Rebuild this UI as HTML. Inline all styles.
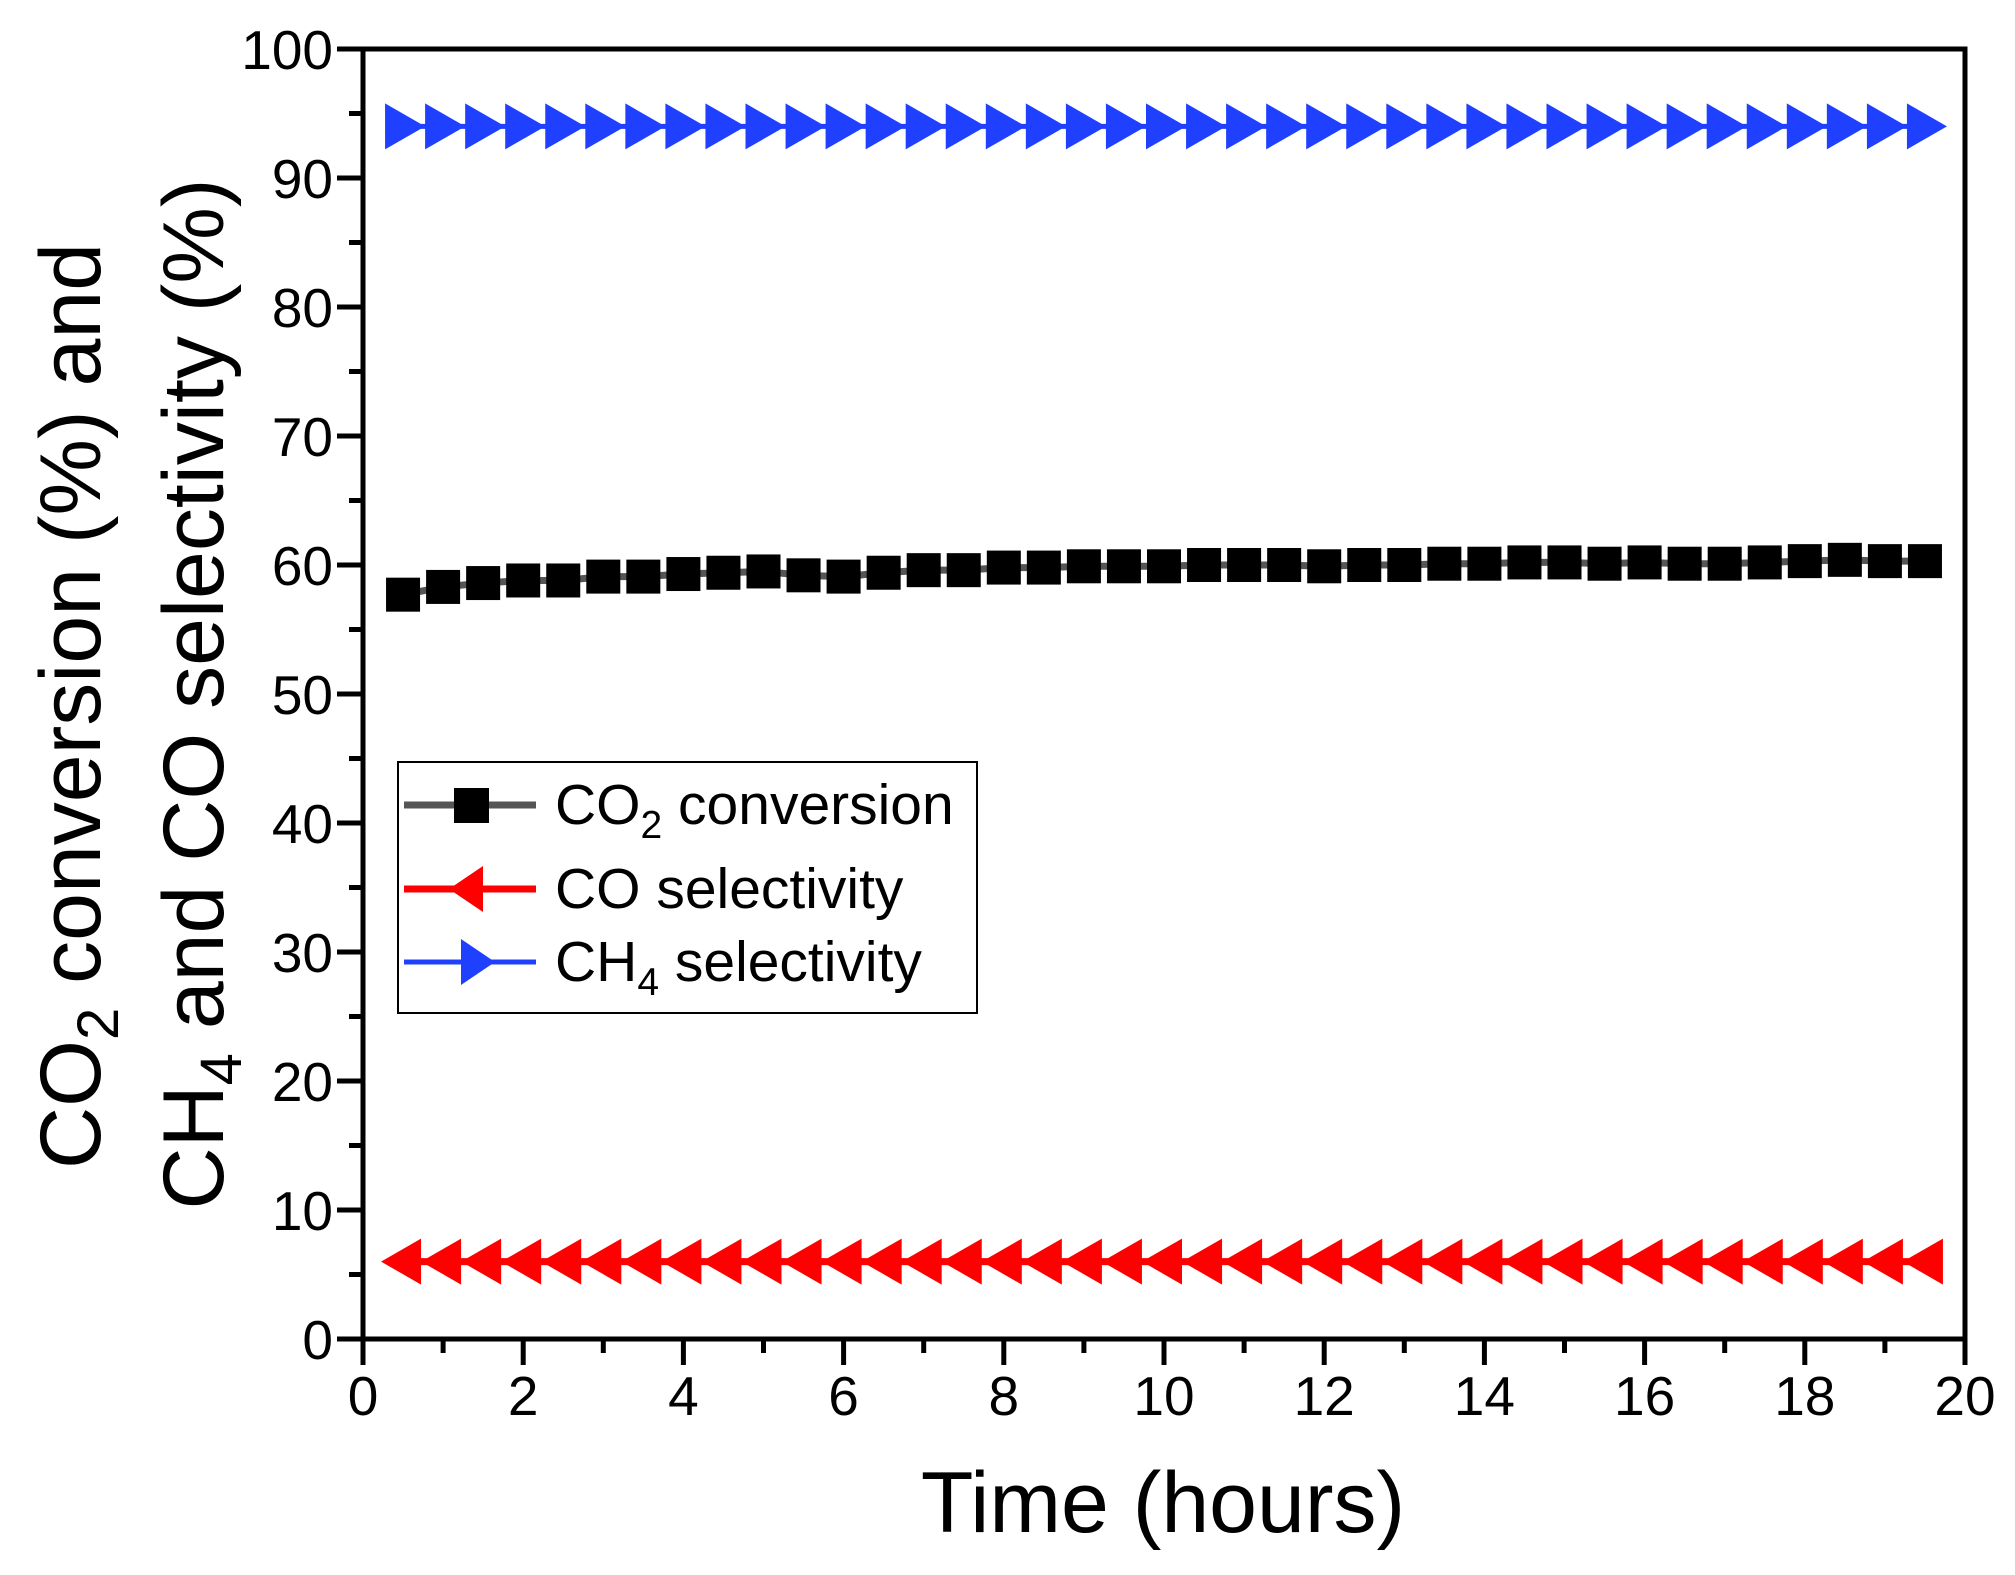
<!DOCTYPE html>
<html><head><meta charset="utf-8"><style>
html,body{margin:0;padding:0;background:#fff;}
body{position:relative;}
svg{display:block;font-family:"Liberation Sans",Arial,sans-serif;}
</style></head><body>
<svg id="chart" width="2015" height="1575" viewBox="0 0 2015 1575">
<g id="plot"></g>
</svg>
<script>
const times=[0.5,1,1.5,2,2.5,3,3.5,4,4.5,5,5.5,6,6.5,7,7.5,8,8.5,9,9.5,10,10.5,11,11.5,12,12.5,13,13.5,14,14.5,15,15.5,16,16.5,17,17.5,18,18.5,19,19.5];
const co2Conversion=[57.7,58.3,58.6,58.8,58.8,59.1,59.1,59.3,59.4,59.5,59.2,59.1,59.4,59.6,59.6,59.8,59.8,59.9,59.9,59.9,60.0,60.0,60.0,59.9,60.0,60.0,60.1,60.1,60.2,60.2,60.1,60.2,60.1,60.1,60.2,60.3,60.4,60.3,60.3];
const coSelectivity=[6,6,6,6,6,6,6,6,6,6,6,6,6,6,6,6,6,6,6,6,6,6,6,6,6,6,6,6,6,6,6,6,6,6,6,6,6,6,6];
const ch4Selectivity=[94,94,94,94,94,94,94,94,94,94,94,94,94,94,94,94,94,94,94,94,94,94,94,94,94,94,94,94,94,94,94,94,94,94,94,94,94,94,94];
const xTicks=[0,2,4,6,8,10,12,14,16,18,20];
const yTicks=[0,10,20,30,40,50,60,70,80,90,100];

const L=363,R=1965,T=49,B=1339;
const X=v=>L+(v/20)*(R-L);
const Y=v=>B-(v/100)*(B-T);
const NS="http://www.w3.org/2000/svg";
const svg=document.getElementById('chart');
function mk(tag,attrs,parent){const e=document.createElementNS(NS,tag);for(const k in attrs)e.setAttribute(k,attrs[k]);(parent||svg).appendChild(e);return e;}

function line(vals,color,w,name){
  const pts=times.map((t,i)=>X(t)+','+Y(vals[i])).join(' ');
  const p=mk('polyline',{points:pts,fill:'none',stroke:color,'stroke-width':w});
  
  
}
line(co2Conversion,'#555555',7,'co2-conversion-line');
line(coSelectivity,'#ff0000',7,'co-selectivity-line');
line(ch4Selectivity,'#2040ff',5,'ch4-selectivity-line');

times.forEach((t,i)=>{
  const x=X(t);
  let y=Y(co2Conversion[i]);
  const s=mk('rect',{x:x-17,y:y-17,width:34,height:34,fill:'#000'});
  
  
  y=Y(coSelectivity[i]);
  const r=mk('polygon',{points:`${x-22},${y} ${x+18},${y-23} ${x+18},${y+23}`,fill:'#ff0000'});
  
  
  y=Y(ch4Selectivity[i]);
  const b=mk('polygon',{points:`${x+22},${y} ${x-18},${y-23} ${x-18},${y+23}`,fill:'#2040ff'});
  
  
});

const fr=mk('rect',{x:L,y:T,width:R-L,height:B-T,fill:'none',stroke:'#000','stroke-width':5});



yTicks.forEach(v=>{
  const y=Y(v);
  const tk=mk('line',{x1:L-26,x2:L,y1:y,y2:y,stroke:'#000','stroke-width':5});
  
  
  const t=mk('text',{x:L-30,y:y+20,'text-anchor':'end','font-size':55});
  t.textContent=v;
  
  
  if(v<100){const m=Y(v+5);const mt=mk('line',{x1:L-14,x2:L,y1:m,y2:m,stroke:'#000','stroke-width':5});
    
    }
});
xTicks.forEach(v=>{
  const x=X(v);
  const tk=mk('line',{x1:x,x2:x,y1:B,y2:B+26,stroke:'#000','stroke-width':5});
  
  
  const t=mk('text',{x:x,y:1415,'text-anchor':'middle','font-size':55});
  t.textContent=v;
  
  
  if(v<20){const m=X(v+1);const mt=mk('line',{x1:m,x2:m,y1:B,y2:B+14,stroke:'#000','stroke-width':5});
    
    }
});
</script>
<svg width="2015" height="1575" viewBox="0 0 2015 1575" style="position:absolute;left:0;top:0;font-family:'Liberation Sans',Arial,sans-serif">
<text x="1163" y="1532" text-anchor="middle" font-size="86">Time (hours)</text>
<text transform="translate(100,706) rotate(-90)" text-anchor="middle" font-size="86">CO<tspan font-size="58" dy="18">2</tspan><tspan dy="-18"> conversion (%) and</tspan></text>
<text transform="translate(223,694) rotate(-90)" text-anchor="middle" font-size="86">CH<tspan font-size="58" dy="18">4</tspan><tspan dy="-18"> and CO selectivity (%)</tspan></text>
<g>
<rect x="398" y="762" width="579" height="251" fill="#fff" stroke="#000" stroke-width="2"/>
<g>
<line x1="404" x2="536" y1="805" y2="805" stroke="#555" stroke-width="7"/>
<rect x="454" y="788" width="35" height="35" fill="#000"/>
<text x="555" y="824" font-size="57">CO<tspan font-size="39" dy="14">2</tspan><tspan dy="-14"> conversion</tspan></text>
</g>
<g>
<line x1="404" x2="536" y1="889" y2="889" stroke="#ff0000" stroke-width="7"/>
<polygon points="449,889 483,866 483,912" fill="#ff0000"/>
<text x="555" y="908" font-size="57">CO selectivity</text>
</g>
<g>
<line x1="404" x2="536" y1="962" y2="962" stroke="#2040ff" stroke-width="5"/>
<polygon points="495,962 461,939 461,985" fill="#2040ff"/>
<text x="555" y="981" font-size="57">CH<tspan font-size="39" dy="14">4</tspan><tspan dy="-14"> selectivity</tspan></text>
</g>
</g>
</svg>
</body></html>
